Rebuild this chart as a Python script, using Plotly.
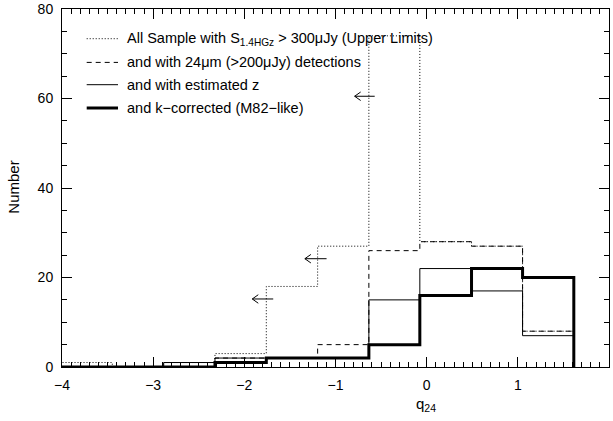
import plotly.graph_objects as go

# ---- data ----
bin_edges = [-4.011, -3.448, -2.885, -2.322, -1.759, -1.196, -0.634, -0.075, 0.492, 1.052, 1.614]
all_sample = [1, 0, 1, 3, 18, 27, 74, 28, 27, 8]          # dotted (upper limits)
with_24um = [0, 0, 1, 2, 2, 5, 26, 28, 27, 8]             # dashed
with_z = [0, 0, 1, 2, 2, 2, 15, 22, 17, 7]                # thin solid
k_corrected = [0, 0, 0, 1, 2, 2, 5, 16, 22, 20]           # thick solid

series_names = [
    "All Sample with S<sub>1.4HGz</sub> &gt; 300\u03bcJy (Upper Limits)",
    "and with 24\u03bcm (&gt;200\u03bcJy) detections",
    "and with estimated z",
    "and k\u2212corrected (M82\u2212like)",
]

# upper-limit arrows: head x, tail x, y
arrow_head_x = [-0.79, -1.336, -1.913]
arrow_tail_x = [-0.57, -1.098, -1.683]
arrow_y = [60.5, 24.2, 15.2]

x_ticks = [-4, -3, -2, -1, 0, 1, 2]
y_ticks = [0, 20, 40, 60, 80]
x_title = "q<sub>24</sub>"
y_title = "Number"

# ---- figure ----
fig = go.Figure()

styles = [
    dict(width=1, dash="1px,2px"),
    dict(width=1, dash="5px,4px"),
    dict(width=1, dash="solid"),
    dict(width=3, dash="solid"),
]
all_series = [all_sample, with_24um, with_z, k_corrected]

for vals, st in zip(all_series, styles):
    xs = [bin_edges[0]] + list(bin_edges)
    ys = [0] + list(vals) + [0]
    fig.add_trace(go.Scatter(x=xs, y=ys, mode="lines", line_shape="hv",
                             line=dict(color="black", width=st["width"], dash=st["dash"]),
                             showlegend=False, hoverinfo="skip"))

# arrows
dx = 0.066
dy = 0.95
for hx, tx, yy in zip(arrow_head_x, arrow_tail_x, arrow_y):
    fig.add_trace(go.Scatter(
        x=[tx, hx, None, hx + dx, hx, hx + dx],
        y=[yy, yy, None, yy + dy, yy, yy - dy],
        mode="lines", line=dict(color="black", width=1),
        showlegend=False, hoverinfo="skip"))

# invisible trace to anchor mirrored top/right axes
fig.add_trace(go.Scatter(x=[-4], y=[0], xaxis="x2", yaxis="y2", mode="markers",
                         marker=dict(opacity=0), showlegend=False, hoverinfo="skip"))

# legend (manual)
L, T, W, H = 62, 9.3, 547, 358
def px2paper(px, py):
    return (px - L) / W, (T + H - py) / H

leg_rows = [39, 62.7, 85, 108.3]
for name, st, row in zip(series_names, styles, leg_rows):
    x0, yy = px2paper(86.7, row)
    x1, _ = px2paper(118, row)
    fig.add_shape(type="line", xref="paper", yref="paper", x0=x0, x1=x1, y0=yy, y1=yy,
                  line=dict(color="black", width=st["width"], dash=st["dash"]))
    tx, _ = px2paper(125, row)
    fig.add_annotation(xref="paper", yref="paper", x=tx, y=yy, text=name,
                       showarrow=False, xanchor="left", yanchor="middle",
                       font=dict(size=14.5, color="black"))

# axis titles
xt, yt = px2paper(426, 405)
fig.add_annotation(xref="paper", yref="paper", x=xt, y=yt, text=x_title, showarrow=False,
                   xanchor="center", yanchor="middle", font=dict(size=15, color="black"))
xt, yt = px2paper(14, 188)
fig.add_annotation(xref="paper", yref="paper", x=xt, y=yt, text=y_title, showarrow=False,
                   textangle=-90, xanchor="center", yanchor="middle",
                   font=dict(size=15, color="black"))

axis_common = dict(showline=True, linecolor="black", linewidth=1,
                   ticks="inside", ticklen=10, tickwidth=1, tickcolor="black",
                   showgrid=False, zeroline=False, automargin=False,
                   tickfont=dict(size=14, color="black"))

fig.update_layout(
    width=613, height=421,
    margin=dict(l=62, r=4, t=9, b=54),
    plot_bgcolor="white", paper_bgcolor="white",
    font=dict(family="Liberation Sans, Arial, sans-serif", color="black"),
    xaxis=dict(range=[-4, 2], tickvals=x_ticks, ticklabelstandoff=5, **axis_common,
               minor=dict(dtick=0.1, ticklen=5, ticks="inside", tickcolor="black", showgrid=False)),
    yaxis=dict(range=[0, 80], tickvals=y_ticks, ticklabelstandoff=5,
               **axis_common,
               minor=dict(dtick=5, ticklen=5, ticks="inside", tickcolor="black", showgrid=False)),
    xaxis2=dict(range=[-4, 2], tickvals=x_ticks, overlaying="x", side="top", anchor="y2",
                showticklabels=False, **axis_common,
                minor=dict(dtick=0.1, ticklen=5, ticks="inside", tickcolor="black", showgrid=False)),
    yaxis2=dict(range=[0, 80], tickvals=y_ticks, overlaying="y", side="right", anchor="x2",
                showticklabels=False, **axis_common,
                minor=dict(dtick=5, ticklen=5, ticks="inside", tickcolor="black", showgrid=False)),
)

fig.write_html("out.html", config={"displayModeBar": False},
               post_script="document.body.style.margin='0px';")
